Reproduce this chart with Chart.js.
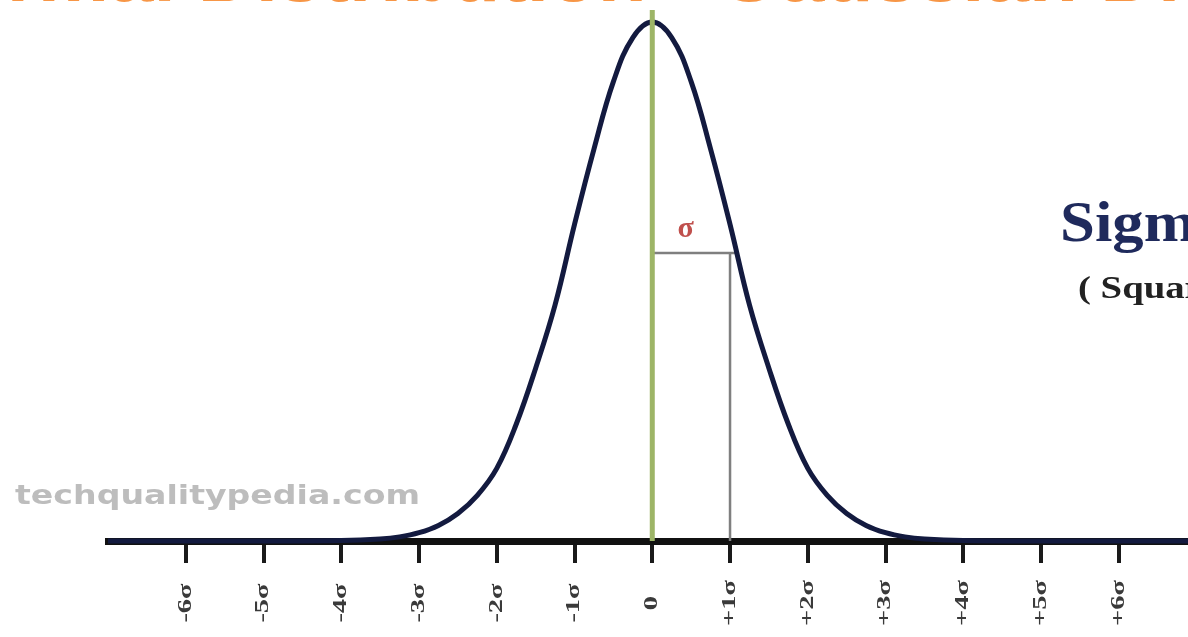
<!DOCTYPE html>
<html>
<head>
<meta charset="utf-8">
<script src="https://cdn.jsdelivr.net/npm/chart.js@4.4.1/dist/chart.umd.min.js"></script>
<style>
  html, body { margin: 0; padding: 0; background: #fff; }
  #wrap { width: 1188px; height: 637px; position: relative; }
</style>
</head>
<body>
<div id="wrap"><canvas id="chart"></canvas></div>
<script>
// x positions in sigma units, heights relative to the peak
const curveX = [-7, -6, -5, -4, -3.5, -3.25, -3, -2.75, -2.5, -2.25, -2, -1.75, -1.5, -1.25, -1, -0.75, -0.5, -0.25, 0,
  0.25, 0.5, 0.75, 1, 1.25, 1.5, 1.75, 2, 2.25, 2.5, 2.75, 3, 3.25, 3.5, 4, 5, 6, 6.9]
const curveH = [0, 0, 0, 0.001, 0.004, 0.008, 0.016, 0.03, 0.053, 0.088, 0.14, 0.225, 0.333, 0.455, 0.61, 0.755, 0.885, 0.97, 1.0,
  0.97, 0.885, 0.755, 0.61, 0.455, 0.333, 0.225, 0.14, 0.088, 0.053, 0.03, 0.016, 0.008, 0.004, 0.001, 0, 0, 0]

const sigmaTicks = [-6, -5, -4, -3, -2, -1, 0, 1, 2, 3, 4, 5, 6]
const tickLabels = ['-6σ', '-5σ', '-4σ', '-3σ', '-2σ', '-1σ', '0', '+1σ', '+2σ', '+3σ', '+4σ', '+5σ', '+6σ']

// mean line and the one-sigma marker
const meanLineX = [0, 0]
const meanLineH = [0, 1.023]
const sigmaBarX = [0, 1.08]
const sigmaBarH = [0.555, 0.555]
const sigmaDropX = [1.0, 1.0]
const sigmaDropH = [0.555, 0]

const toPoints = (xs, ys) => xs.map((x, i) => ({ x, y: ys[i] }))

function stretchedText(ctx, text, x, y, sx) {
  ctx.save()
  ctx.translate(x, y)
  ctx.scale(sx, 1)
  ctx.fillText(text, 0, 0)
  ctx.restore()
}

const overlay = {
  id: 'overlay',
  beforeDraw(chart) {
    const ctx = chart.ctx
    ctx.save()
    ctx.fillStyle = '#ffffff'
    ctx.fillRect(0, 0, chart.width, chart.height)

    // title, cut off at the top edge
    ctx.fillStyle = '#f79646'
    ctx.font = 'bold 80px "Liberation Sans"'
    ctx.textAlign = 'left'
    ctx.textBaseline = 'alphabetic'
    ctx.fillText('Normal Distribution - Gaussian Distribution', -100, 1)

    // watermark
    ctx.fillStyle = '#bdbdbd'
    ctx.font = 'bold 27px "DejaVu Sans"'
    ctx.textBaseline = 'middle'
    const wm = 'techqualitypedia.com'
    const w = ctx.measureText(wm).width
    stretchedText(ctx, wm, 15, 497, 405 / w)
    ctx.restore()
  },
  afterDraw(chart) {
    const ctx = chart.ctx
    const xs = chart.scales.x
    const ys = chart.scales.y
    ctx.save()

    // rotated sigma tick labels
    ctx.fillStyle = '#3a3a3a'
    ctx.font = 'bold 19px "Liberation Serif"'
    ctx.textAlign = 'center'
    ctx.textBaseline = 'middle'
    sigmaTicks.forEach((v, i) => {
      ctx.save()
      ctx.translate(xs.getPixelForValue(v), 603)
      ctx.rotate(-Math.PI / 2)
      ctx.scale(1.5, 1)
      ctx.fillText(tickLabels[i], 0, 0)
      ctx.restore()
    })

    // red sigma above the marker
    ctx.fillStyle = '#c0504d'
    ctx.font = 'bold 30px "Liberation Serif"'
    ctx.textAlign = 'center'
    ctx.textBaseline = 'alphabetic'
    ctx.fillText('σ', xs.getPixelForValue(0.43), ys.getPixelForValue(0.585))

    // side note, runs off the right edge
    ctx.textAlign = 'left'
    ctx.fillStyle = '#1f2a5c'
    ctx.font = 'bold 56px "Liberation Serif"'
    stretchedText(ctx, 'Sigma', 1060, 241, 1.12)
    ctx.fillStyle = '#222222'
    ctx.font = 'bold 31px "Liberation Serif"'
    stretchedText(ctx, '( Square root of Variance )', 1078, 298, 1.25)
    ctx.restore()
  }
}

new Chart(document.getElementById('chart'), {
  type: 'line',
  data: {
    datasets: [
      {
        label: 'Mean',
        data: toPoints(meanLineX, meanLineH),
        borderColor: '#9db567',
        borderWidth: 5,
        pointRadius: 0,
        clip: false
      },
      {
        label: 'Normal curve',
        data: toPoints(curveX, curveH),
        borderColor: '#131a3f',
        borderWidth: 5,
        pointRadius: 0,
        tension: 0.4,
        clip: false
      },
      {
        label: 'Sigma bar',
        data: toPoints(sigmaBarX, sigmaBarH),
        borderColor: '#7f7f7f',
        borderWidth: 2.5,
        pointRadius: 0
      },
      {
        label: 'Sigma drop',
        data: toPoints(sigmaDropX, sigmaDropH),
        borderColor: '#7f7f7f',
        borderWidth: 2.5,
        pointRadius: 0,
        clip: false
      }
    ]
  },
  options: {
    responsive: true,
    maintainAspectRatio: false,
    animation: false,
    layout: { padding: { left: 108, right: 0, top: 0, bottom: 74 } },
    plugins: {
      legend: { display: false },
      tooltip: { enabled: false }
    },
    scales: {
      x: {
        type: 'linear',
        min: -7,
        max: 6.89,
        afterBuildTicks: axis => { axis.ticks = sigmaTicks.map(v => ({ value: v })) },
        ticks: { display: false },
        grid: {
          drawOnChartArea: false,
          drawTicks: true,
          tickLength: 22,
          lineWidth: 4,
          color: '#1a1a1a'
        },
        border: { display: true, width: 7, color: '#111111' }
      },
      y: {
        display: false,
        min: 0,
        max: 1.0424
      }
    }
  },
  plugins: [overlay]
})
</script>
</body>
</html>
